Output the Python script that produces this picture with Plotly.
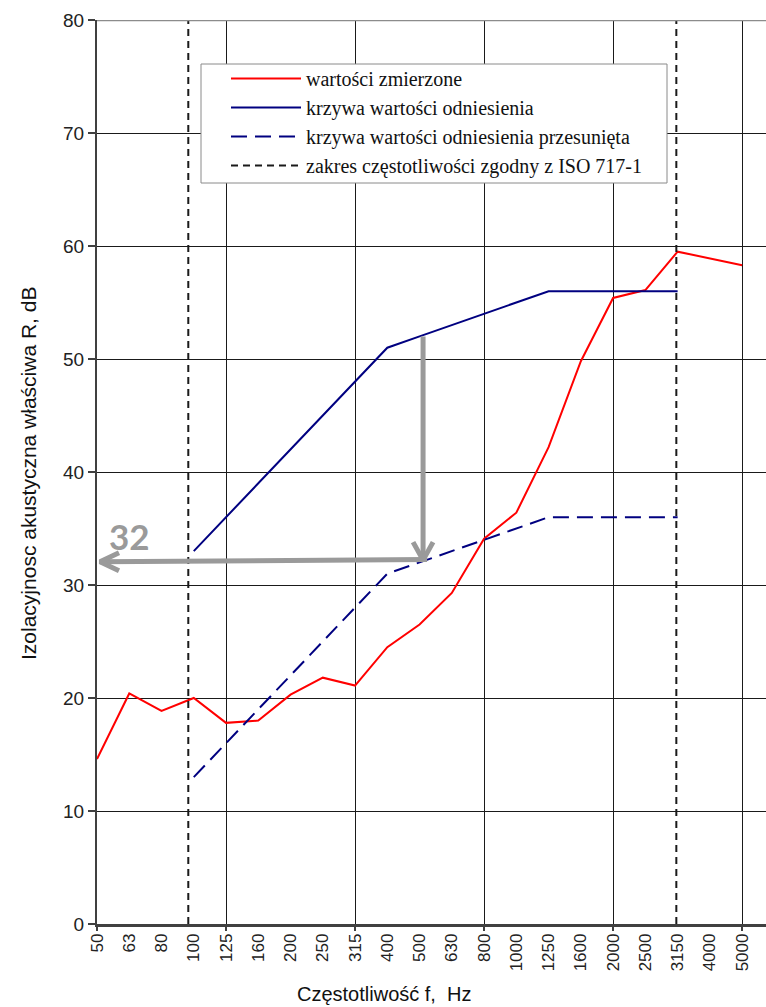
import plotly.graph_objects as go

# Frequency bands (1/3 octave), Hz
freq_labels = ["50", "63", "80", "100", "125", "160", "200", "250", "315", "400",
               "500", "630", "800", "1000", "1250", "1600", "2000", "2500", "3150",
               "4000", "5000"]

# Measured sound reduction index R, dB (50 Hz ... 5000 Hz)
measured = [14.6, 20.4, 18.85, 20.0, 17.8, 18.0, 20.3, 21.8, 21.1, 24.5,
            26.5, 29.3, 34.1, 36.4, 42.2, 49.8, 55.4, 56.1, 59.5, 58.9, 58.3]

# ISO 717-1 reference curve, 100 Hz ... 3150 Hz
ref_labels = ["100", "125", "160", "200", "250", "315", "400", "500", "630",
              "800", "1000", "1250", "1600", "2000", "2500", "3150"]
ref_values = [33, 36, 39, 42, 45, 48, 51, 52, 53, 54, 55, 56, 56, 56, 56, 56]

# Shift of the reference curve and resulting single-number rating
ref_shift = -20
rw_label = "500"
rw_value = 32

# Frequency range according to ISO 717-1
iso_range = ["100", "3150"]

# Bands carrying vertical grid lines
grid_bands = ["50", "125", "315", "800", "2000", "5000"]

idx = {f: i for i, f in enumerate(freq_labels)}
ref_x = [idx[f] for f in ref_labels]
shifted = [v + ref_shift for v in ref_values]

GRAY = "#9a9a9a"
x_range = [0, 20.74]

# plot area in pixels (for placing overlays)
PL, PW, PT, PH = 97, 669, 20, 904


def px_paper_x(px):
    return (px - PL) / PW


def px_paper_y(py):
    return (PT + PH - py) / PH


fig = go.Figure()

fig.add_trace(go.Scatter(
    x=list(range(len(freq_labels))), y=measured, mode="lines",
    name="wartości zmierzone", legendgroup="a",
    line=dict(color="#ff0000", width=2)))

fig.add_trace(go.Scatter(
    x=ref_x, y=ref_values, mode="lines",
    name="krzywa wartości odniesienia", legendgroup="b",
    line=dict(color="#000080", width=2)))

fig.add_trace(go.Scatter(
    x=ref_x, y=shifted, mode="lines",
    name="krzywa wartości odniesienia przesunięta", legendgroup="c",
    line=dict(color="#000080", width=2, dash="16px,8px")))

lo, hi = idx[iso_range[0]] - 0.17, idx[iso_range[1]] - 0.04
fig.add_trace(go.Scatter(
    x=[lo, lo, None, hi, hi], y=[0, 80, None, 0, 80], mode="lines",
    name="zakres częstotliwości zgodny z ISO 717-1", legendgroup="d",
    line=dict(color="#1a1a1a", width=2, dash="7px,5px")))

# Arrows showing how the rating is read: down from the reference curve,
# then left to the R axis
xr = idx[rw_label]
top_val = ref_values[ref_labels.index(rw_label)]
px_x = PW / (x_range[1] - x_range[0])
px_y = PH / 80.0
vx = xr + 3.5 / px_x
arrow_style = dict(mode="lines", showlegend=False, hoverinfo="skip",
                   line=dict(color=GRAY, width=5))
fig.add_trace(go.Scatter(
    x=[vx, vx, None, vx - 10 / px_x, vx, vx + 10 / px_x],
    y=[top_val, rw_value + 0.2, None, rw_value + 0.2 + 18 / px_y,
       rw_value + 0.2, rw_value + 0.2 + 18 / px_y], **arrow_style))
hx0 = xr + 7.5 / px_x
hx1 = 3 / px_x
fig.add_trace(go.Scatter(
    x=[hx0, hx1, None, hx1 + 19 / px_x, hx1, hx1 + 19 / px_x],
    y=[rw_value + 0.25, rw_value + 0.05, None, rw_value + 0.05 + 9 / px_y,
       rw_value + 0.05, rw_value + 0.05 - 9 / px_y], **arrow_style))

# Helper trace for the secondary x axis carrying the sparse grid
fig.add_trace(go.Scatter(x=[None], y=[None], xaxis="x2", showlegend=False,
                         hoverinfo="skip"))

fig.add_annotation(x=1.02, y=rw_value + 2.3, xref="x", yref="y",
                   text="<b>%d</b>" % rw_value, showarrow=False,
                   font=dict(family="Lato", size=35, color=GRAY))

# Axis titles
fig.add_annotation(x=px_paper_x(28), y=px_paper_y(474), xref="paper", yref="paper",
                   text="Izolacyjnosc akustyczna właściwa R, dB", textangle=-90,
                   showarrow=False, xanchor="center", yanchor="middle",
                   font=dict(family="Liberation Sans, Arial", size=21, color="#111"))
fig.add_annotation(x=px_paper_x(384), y=px_paper_y(994), xref="paper", yref="paper",
                   text="Częstotliwość f,\u00a0 Hz", showarrow=False,
                   xanchor="center", yanchor="middle",
                   font=dict(family="Liberation Sans, Arial", size=20, color="#111"))

# Top border of the plot area
fig.add_shape(type="line", xref="paper", yref="y", x0=0, x1=1, y0=80, y1=80,
              line=dict(color="#8c8c8c", width=2.5), layer="above")

# Legend frame
fig.add_shape(type="rect", xref="paper", yref="paper",
              x0=px_paper_x(201), x1=px_paper_x(667),
              y0=px_paper_y(183), y1=px_paper_y(64),
              fillcolor="white", line=dict(color="#8a8a8a", width=1), layer="above")

fig.update_layout(
    width=766, height=1007,
    margin=dict(l=PL, r=0, t=PT, b=83),
    paper_bgcolor="white", plot_bgcolor="white",
    showlegend=True,
    legend=dict(x=px_paper_x(226), y=px_paper_y(59), xanchor="left", yanchor="top",
                bgcolor="rgba(0,0,0,0)", borderwidth=0,
                font=dict(family="Liberation Serif, Times New Roman", size=20, color="#111"),
                itemwidth=70, tracegroupgap=8, traceorder="normal"),
    xaxis=dict(range=x_range, tickmode="array",
               tickvals=list(range(len(freq_labels))), ticktext=freq_labels,
               tickangle=-90, ticks="", showgrid=False, zeroline=False,
               showline=True, linecolor="#404040", linewidth=2.5,
               tickfont=dict(family="Liberation Sans, Arial", size=17, color="#222")),
    xaxis2=dict(range=x_range, overlaying="x", anchor="y", side="bottom",
                tickmode="array", tickvals=[idx[f] for f in grid_bands],
                showticklabels=False, ticks="outside", ticklen=6, tickwidth=1.5,
                tickcolor="#404040", showgrid=True, gridcolor="#1a1a1a",
                gridwidth=1, zeroline=False, showline=False),
    yaxis=dict(range=[0, 80], tickmode="array", tickvals=list(range(0, 81, 10)),
               ticks="outside", ticklen=7, tickwidth=1.5, tickcolor="#404040",
               showgrid=True, gridcolor="#1a1a1a", gridwidth=1, zeroline=False,
               showline=True, linecolor="#404040", linewidth=2,
               tickfont=dict(family="Liberation Sans, Arial", size=19, color="#222")),
)

fig.write_html("out.html")
